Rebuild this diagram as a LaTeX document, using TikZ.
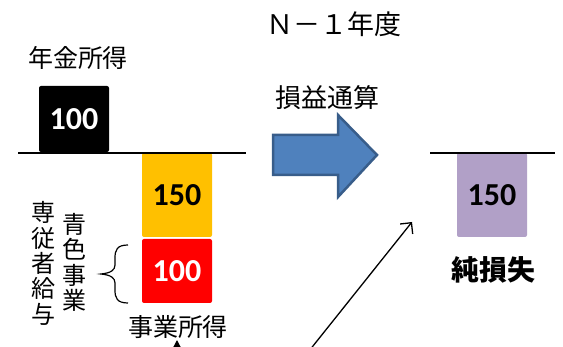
\documentclass[tikz,border=0pt]{standalone}
\usepackage{fontspec}
\newfontfamily\jp{Noto Sans CJK JP}
\newfontfamily\num{Carlito}
\usetikzlibrary{arrows.meta}
\definecolor{boxyellow}{HTML}{FFC000}
\definecolor{boxred}{HTML}{FF0000}
\definecolor{boxpurple}{HTML}{B1A0C7}
\definecolor{arrowfill}{HTML}{4F81BD}
\definecolor{arrowline}{HTML}{385D8A}
\tikzset{
  valbox/.style={rounded corners=2pt, inner sep=0pt, outer sep=0pt, minimum width=70pt,
    font=\num\bfseries\fontsize{32}{32}\selectfont},
  lbl/.style={inner sep=0pt, font=\jp\fontsize{25}{25}\selectfont},
  vlbl/.style={inner sep=0pt, align=center, font=\jp\fontsize{24}{25.4}\selectfont},
  baseline line/.style={line width=1.8pt},
}
\begin{document}
\begin{tikzpicture}[x=1pt,y=-1pt]
\useasboundingbox (0,0) rectangle (563,347);
\clip (0,0) rectangle (563,347);
% baselines
\coordinate (l1) at (18,153); \coordinate (l2) at (246,153);
\coordinate (r1) at (430,153); \coordinate (r2) at (555,153);
% boxes
\node[valbox, fill=black, text=white, minimum height=66pt] (pension) at (74,119) {100};
\node[valbox, fill=boxyellow, text=black, minimum height=84pt] (biz) at (177,195) {150};
\node[valbox, fill=boxred, text=white, minimum height=64pt] (wage) at (177,271) {100};
\node[valbox, fill=boxpurple, text=black, minimum height=84pt] (net) at (492,195) {150};
\draw[baseline line] (l1) -- (l2);
\draw[baseline line] (r1) -- (r2);
% labels
\node[lbl, font=\jp\fontsize{27}{27}\selectfont] (title) at (334,24) {Ｎ－１年度};
\node[lbl] (pensionlbl) at (78,58) {年金所得};
\node[lbl, font=\jp\fontsize{26}{26}\selectfont] (offset) at (327,98) {損益通算};
\node[lbl] (bizlbl) at (178,327) {事業所得};
\node[lbl, font=\jp\bfseries\fontsize{28}{28}\selectfont] (netlbl) at (493,270) {純損失};
\node[vlbl] (senju) at (43,263.5) {専\\従\\者\\給\\与};
\node[vlbl] (aoiro) at (75,262.5) {青\\色\\事\\業};
% brace
\draw[line width=1.2pt] (128,245) .. controls (117,245) and (115,250) .. (115,258) -- (115,265)
  .. controls (115,270) and (111,273) .. (101,274)
  .. controls (111,275) and (115,278) .. (115,283) -- (115,290)
  .. controls (115,298) and (117,303) .. (128,303);
% big blue arrow
\draw[fill=arrowfill, draw=arrowline, line width=2.5pt, line join=miter]
  (273,135) -- (338,135) -- (338,115) -- (377,155) -- (338,197) -- (338,175) -- (273,175) -- cycle;
% diagonal arrow
\coordinate (dstart) at (305,356);
\coordinate (dend) at (412,222);
\draw[line width=1.3pt, -{Straight Barb[length=8pt,width=16pt]}] (dstart) -- (dend);
% small upward arrow under 事業所得
\coordinate (ustart) at (177,370);
\coordinate (uend) at (177,340);
\draw[line width=1.3pt, -{Triangle[length=8pt,width=8pt]}] (ustart) -- (uend);
\end{tikzpicture}
\end{document}
